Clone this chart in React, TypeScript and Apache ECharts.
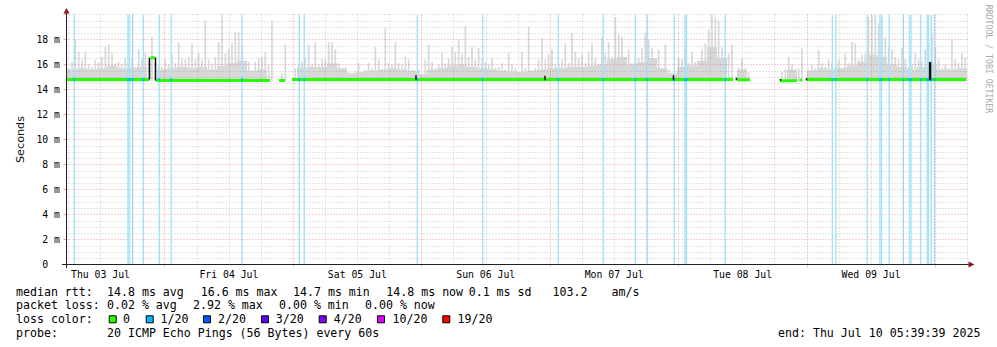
import React, { useEffect, useRef } from 'react';
import * as echarts from 'echarts';

// ---------- axis ranges (hours since Thu 03 Jul 00:00) ----------
const X_MIN = 5.65;
const X_MAX = 174.12;
const Y_MAX = 20;

const DAY_LABEL_HOURS = [12, 36, 60, 84, 108, 132, 156];
const DAY_LABELS = ['Thu 03 Jul', 'Fri 04 Jul', 'Sat 05 Jul', 'Sun 06 Jul', 'Mon 07 Jul', 'Tue 08 Jul', 'Wed 09 Jul'];
const MIDNIGHT_HOURS = [24, 48, 72, 96, 120, 144, 168];
const SIX_HOUR_LINES = [6, 12, 18, 30, 36, 42, 54, 60, 66, 78, 84, 90, 102, 108, 114, 126, 132, 138, 150, 156, 162, 174];
const Y_TICKS = [0, 2, 4, 6, 8, 10, 12, 14, 16, 18, 20];

// ---------- smoke (ms) ----------
const SMOKE_T0 = 5.7434;
const SMOKE_STEP = 0.6229;
const SMOKE_MIN = 14.65;
const SMOKE_MAX = [
  15.7, 16.2, 18.0, 17.0, 16.4, 17.0, 16.0, 15.8, 16.4, 16.2, 16.6, 17.4, 17.6, 16.9, 16.1,
  16.2, 16.0, 16.5, 16.1, 16.5, 15.8, 17.2, 16.5, 16.9, 16.4, 18.2, 16.2, 16.0, 15.8, 16.4,
  16.0, 16.8, 16.1, 17.8, 16.5, 16.4, 16.6, 17.7, 16.4, 16.9, 16.4, 19.5, 16.4, 16.1, 16.6,
  17.8, 20.0, 16.9, 17.2, 17.7, 18.6, 18.6, 17.6, 16.2, 16.2, 15.4, 16.2, 16.5, 16.6, 17.0,
  16.0, 19.5, null, null, 15.3, 17.6, null, null, 15.7, 16.0, 16.2, 16.5, 17.6, 16.0, 17.8,
  16.0, 16.4, 16.4, 17.8, 17.8, 17.2, 16.1, 15.6, 15.7, 15.4, 15.3, 15.5, 16.1, 15.4, 15.6,
  16.1, 15.7, 17.4, 16.4, 15.6, 18.9, 16.1, 16.0, 17.8, 16.1, 16.0, 16.6, 16.4, 15.6, 15.3,
  15.6, 15.2, 16.4, 17.6, 16.2, 15.7, 16.0, 16.9, 16.1, 16.5, 17.4, 17.0, 18.0, 16.9, 19.1,
  16.6, 17.4, 16.4, 17.3, 16.4, 16.2, 16.0, 16.5, 15.7, 15.8, 16.1, 15.6, 16.9, 16.0, 15.7,
  15.4, 17.0, 15.7, 19.0, 15.4, 15.7, 16.4, 18.1, 16.4, 16.8, 17.2, 16.0, 16.1, 16.4, 17.7,
  16.1, 18.5, 17.0, 16.5, 16.8, 16.1, 17.0, 17.7, 16.5, 16.0, 18.2, 16.9, 17.8, 16.6, 19.8,
  18.4, 18.2, 16.6, 17.2, 16.1, 16.4, 16.5, 17.3, 18.5, 18.0, 17.3, 16.1, 17.2, 15.6, 17.6,
  15.6, 15.3, 15.2, 16.5, 16.4, 17.2, 16.1, 17.0, 16.2, 16.0, 17.2, 17.7, 18.8, 20.0, 19.8,
  19.5, 17.4, 16.6, 16.9, 17.6, null, 15.8, 16.5, 15.7, 15.4, null, null, null, null, null,
  null, null, null, null, 15.4, 15.6, 16.6, 16.0, 15.6, 15.7, 17.3, null, 15.6, 16.0, 15.7,
  17.2, 16.1, 15.8, 16.4, 16.2, 15.8, 16.4, 15.7, 16.9, 16.1, 17.8, 17.7, 16.4, 16.8, 16.9,
  19.8, 20.0, 20.0, 19.3, 19.8, 18.2, 17.4, 17.2, 16.6, 16.4, 17.3, 16.4, 15.8, 16.0, 16.9,
  16.4, 16.2, 17.2, 17.7, 18.5, 17.4, 16.4, 15.7, 16.0, 15.7, 18.0, 16.4, 16.1, 16.9, 16.6,
];
const BODY_STEP = 1.8688;
const SMOKE_BODY = [
  15.6, 15.7, 15.6, 15.7, 15.9, 15.7, 15.7, 15.8, null, 15.6,
  15.7, 15.8, 15.7, 15.8, 15.6, 15.9, 16.1, 16.3, 15.5, 15.6,
  null, null, null, 15.7, 15.8, 15.8, 16.1, 15.7, 15.3, 15.4,
  15.5, 15.6, 15.7, 15.6, 15.5, 15.2, 15.6, 15.7, 15.9, 16.0,
  15.8, 15.7, 15.6, 15.5, 15.4, 15.4, 15.5, 15.6, 15.7, 15.7,
  15.8, 15.8, 15.9, 16.0, 16.4, 16.6, 16.0, 16.2, 16.5, 15.7,
  15.3, 15.8, 15.9, 16.3, 17.4, 16.5, null, 15.6, null, null,
  null, null, 15.6, null, 15.5, 15.7, 15.6, 15.7, 15.9, 16.2,
  16.8, 16.6, 16.0, 15.8, 15.6, 15.8, 16.0, 15.6, 15.6, 15.7,
];

// ---------- median rtt segments ----------
const MEDIAN_START = [5.65, 21.35, 22.38, 45.36, 47.79, 130.95, 138.99, 142.63, 143.85];
const MEDIAN_END = [21.16, 22.28, 43.68, 46.48, 130.2, 133.38, 142.16, 143.1, 173.75];
const MEDIAN_VALUE = [14.8, 16.55, 14.73, 14.73, 14.8, 14.78, 14.7, 14.76, 14.8];

// ---------- loss events (1/20) ----------
const LOSS_TIMES = [
  7.11, 17.14, 17.42, 18.02, 20.0, 22.99, 25.23, 38.44, 49.15, 50.08, 71.2, 83.43, 97.55,
  105.96, 111.94, 114.19, 119.23, 121.23, 121.51, 128.76, 148.78, 149.44, 155.29, 157.66,
  157.94, 159.4, 162.02, 163.18, 163.46, 165.27, 166.49, 166.73, 167.25, 167.85,
];

// ---------- dark (tight smoke) marks ----------
const BLACK_TIMES = [21.16, 22.28, 70.96, 95.07, 119.08, 166.95, 167.12, 130.85, 139.08, 143.94];
const BLACK_LOW = [14.8, 14.73, 14.75, 14.75, 14.75, 14.75, 14.75, 14.75, 14.7, 14.75];
const BLACK_HIGH = [16.55, 16.55, 15.15, 15.1, 15.15, 16.2, 16.2, 14.95, 14.85, 14.9];

// ---------- legend ----------
const LOSS_LEGEND_LABELS = ['0', '1/20', '2/20', '3/20', '4/20', '10/20', '19/20'];
const LOSS_LEGEND_COLORS = ['#26ff00', '#00b8ff', '#0059ff', '#5e00ff', '#7e00ff', '#dd00ff', '#ff0000'];
const LOSS_LEGEND_BOX_X = [108.7, 145.7, 203, 261, 318.7, 377, 442.3];
const LOSS_LEGEND_TEXT_X = [123, 160.5, 218, 275.8, 333.8, 392.5, 457.5];

const RTT_TEXTS = ['median rtt:', '14.8 ms avg', '16.6 ms max', '14.7 ms min', '14.8 ms now', '0.1 ms sd', '103.2', 'am/s'];
const RTT_X = [16, 107, 200.7, 293, 386.3, 468.7, 552.5, 611.5];
const LOSS_TEXTS = ['packet loss:', '0.02 % avg', '2.92 % max', '0.00 % min', '0.00 % now'];
const LOSS_X = [16, 107, 193, 279, 365];
const PROBE_TEXT = '20 ICMP Echo Pings (56 Bytes) every 60s';
const END_TEXT = 'end: Thu Jul 10 05:39:39 2025';

const MONO = '"DejaVu Sans Mono", monospace';
const MAJOR = 'rgba(215, 70, 70, 0.5)';
const MINOR = 'rgba(130, 130, 130, 0.42)';
const nb = (s: string) => s.replace(/ /g, '\u00A0');

// custom series drawing vertical range bars [t, low, high]
function rangeSeries(name: string, data: number[][], width: number, color: string, z: number) {
  return {
    type: 'custom',
    name,
    xAxisIndex: 0,
    yAxisIndex: 0,
    z,
    silent: true,
    clip: true,
    encode: { x: 0, y: [1, 2] },
    data,
    renderItem: (params: any, api: any) => {
      const t = api.value(0);
      const lo = api.value(1);
      const hi = api.value(2);
      const top = api.coord([t, hi]);
      const bot = api.coord([t, lo]);
      const cs = params.coordSys;
      const rect = echarts.graphic.clipRectByRect(
        { x: top[0] - width / 2, y: top[1], width, height: bot[1] - top[1] },
        { x: cs.x, y: cs.y, width: cs.width, height: cs.height }
      );
      if (!rect) return null;
      return { type: 'rect', shape: rect, style: { fill: color } };
    },
  };
}

function buildOption() {
  const smoke: number[][] = [];
  SMOKE_MAX.forEach((v, i) => {
    if (v == null) return;
    smoke.push([SMOKE_T0 + (i + 0.5) * SMOKE_STEP, SMOKE_MIN, v]);
  });
  const body: number[][] = [];
  SMOKE_BODY.forEach((v, i) => {
    if (v == null) return;
    body.push([SMOKE_T0 + (i + 0.5) * BODY_STEP, SMOKE_MIN, v]);
  });
  const median: any[] = [];
  MEDIAN_START.forEach((s, i) => {
    median.push([s, MEDIAN_VALUE[i]]);
    median.push([MEDIAN_END[i], MEDIAN_VALUE[i]]);
    if (i < MEDIAN_START.length - 1) median.push([(MEDIAN_END[i] + MEDIAN_START[i + 1]) / 2, '-']);
  });
  const lossFull = LOSS_TIMES.map((t) => [t, 0, Y_MAX]);
  const lossMed = LOSS_TIMES.map((t) => [t, 14.66, 14.93]);
  const black = BLACK_TIMES.map((t, i) => [t, BLACK_LOW[i], BLACK_HIGH[i]]);

  const textEl = (x: number, y: number, text: string, extra: any = {}) => ({
    type: 'text',
    x,
    y,
    z: 10,
    silent: true,
    style: {
      text: nb(text),
      fill: '#000',
      font: `11.6px ${MONO}`,
      align: 'left',
      verticalAlign: 'middle',
      textAlign: 'left',
      textVerticalAlign: 'middle',
      ...extra,
    },
  });

  const graphics: any[] = [];
  RTT_TEXTS.forEach((t, i) => graphics.push(textEl(RTT_X[i], 291.7, t)));
  LOSS_TEXTS.forEach((t, i) => graphics.push(textEl(LOSS_X[i], 305, t)));
  graphics.push(textEl(16, 319.3, 'loss color:'));
  LOSS_LEGEND_LABELS.forEach((t, i) => {
    graphics.push({
      type: 'rect',
      z: 10,
      silent: true,
      shape: { x: LOSS_LEGEND_BOX_X[i] + 0.5, y: 315.8, width: 7, height: 7 },
      style: { fill: LOSS_LEGEND_COLORS[i], stroke: '#000', lineWidth: 1 },
    });
    graphics.push(textEl(LOSS_LEGEND_TEXT_X[i], 319.3, t));
  });
  graphics.push(textEl(16, 332.7, 'probe:'));
  graphics.push(textEl(107, 332.7, PROBE_TEXT));
  graphics.push(textEl(778, 332.7, END_TEXT));

  graphics.push({
    type: 'line', z: 10, silent: true,
    shape: { x1: 66.5, y1: 268, x2: 66.5, y2: 12 },
    style: { stroke: '#222', lineWidth: 1 },
  });
  graphics.push({
    type: 'line', z: 10, silent: true,
    shape: { x1: 62, y1: 264.5, x2: 970, y2: 264.5 },
    style: { stroke: '#222', lineWidth: 1 },
  });
  graphics.push({
    type: 'polygon', z: 11, silent: true,
    shape: { points: [[63.5, 13.5], [66.5, 8], [69.5, 13.5]] },
    style: { fill: '#8b1a1a' },
  });
  graphics.push({
    type: 'polygon', z: 11, silent: true,
    shape: { points: [[968.5, 261.5], [974.5, 264.5], [968.5, 267.5]] },
    style: { fill: '#8b1a1a' },
  });
  graphics.push({
    type: 'text', x: 20.5, y: 139.5, rotation: Math.PI / 2, z: 10, silent: true,
    style: {
      text: 'Seconds', fill: '#111', font: '11.2px "DejaVu Sans", sans-serif',
      align: 'center', verticalAlign: 'middle', textAlign: 'center', textVerticalAlign: 'middle',
    },
  });
  graphics.push({
    type: 'text', x: 988.5, y: 59, rotation: -Math.PI / 2, z: 10, silent: true,
    style: {
      text: nb('RRDTOOL / TOBI OETIKER'), fill: '#aaaaaa', font: `8.2px ${MONO}`,
      align: 'center', verticalAlign: 'middle', textAlign: 'center', textVerticalAlign: 'middle',
    },
  });

  const splitColors = Y_TICKS.map((v) => (v === Y_MAX ? MINOR : MAJOR));

  return {
    animation: false,
    backgroundColor: '#ffffff',
    grid: { left: 66.5, top: 14.5, width: 901.5, height: 250, containLabel: false },
    xAxis: {
      type: 'value',
      min: X_MIN,
      max: X_MAX,
      z: 3,
      axisLine: { show: false },
      splitLine: { show: false },
      axisTick: { show: true, customValues: MIDNIGHT_HOURS, length: 4, lineStyle: { color: MAJOR, type: [1, 1] } },
      axisLabel: {
        customValues: DAY_LABEL_HOURS,
        formatter: (v: number) => {
          const idx = DAY_LABEL_HOURS.indexOf(Math.round(v));
          return idx >= 0 ? nb(DAY_LABELS[idx]) : '';
        },
        fontFamily: MONO,
        fontSize: 9.8,
        color: '#000',
        margin: 5,
      },
    },
    yAxis: {
      type: 'value',
      min: 0,
      max: Y_MAX,
      interval: 2,
      z: 3,
      axisLine: { show: false },
      axisTick: { show: true, length: 3, lineStyle: { color: MAJOR } },
      axisLabel: {
        formatter: (v: number) => (v === 0 ? nb('0  ') : v === Y_MAX ? '' : nb(`${v} m`)),
        fontFamily: MONO,
        fontSize: 9.8,
        color: '#000',
        margin: 6.5,
      },
      splitLine: { show: true, lineStyle: { color: splitColors, type: [1, 2], width: 1 } },
      minorTick: { show: false, splitNumber: 4 },
      minorSplitLine: { show: true, lineStyle: { color: MINOR, type: [1, 2], width: 1 } },
    },
    graphic: graphics,
    series: [
      rangeSeries('body', body, 10, '#d7d7d7', 2),
      rangeSeries('smoke', smoke, 1.7, '#d9d9d9', 2),
      {
        type: 'line', name: 'vgrid', data: [], z: 3, silent: true,
        markLine: {
          silent: true,
          symbol: ['none', 'none'],
          label: { show: false },
          animation: false,
          lineStyle: { type: [1, 2], width: 1 },
          data: [
            ...SIX_HOUR_LINES.map((h) => ({ xAxis: h, lineStyle: { color: MINOR, type: [1, 2], width: 1 } })),
            ...MIDNIGHT_HOURS.map((h) => ({ xAxis: h, lineStyle: { color: MAJOR, type: [1, 2], width: 1 } })),
          ],
        },
      },
      rangeSeries('loss', lossFull, 1.4, '#a6e2f8', 3),
      {
        type: 'line', name: 'median', data: median, z: 4, showSymbol: false,
        connectNulls: false, silent: true,
        lineStyle: { color: '#26ff00', width: 3, cap: 'butt' },
      },
      rangeSeries('lossMedian', lossMed, 1.6, '#00b8ff', 5),
      rangeSeries('dark', black, 1.5, '#111111', 5),
    ],
  };
}

export default function App() {
  const ref = useRef<HTMLDivElement>(null);
  useEffect(() => {
    if (!ref.current) return;
    const chart = echarts.init(ref.current, undefined, { renderer: 'svg' });
    chart.setOption(buildOption() as any);
    return () => chart.dispose();
  }, []);
  return (
    <div
      ref={ref}
      style={{ position: 'fixed', left: 0, top: 0, width: 997, height: 347, background: '#fff' }}
    />
  );
}
